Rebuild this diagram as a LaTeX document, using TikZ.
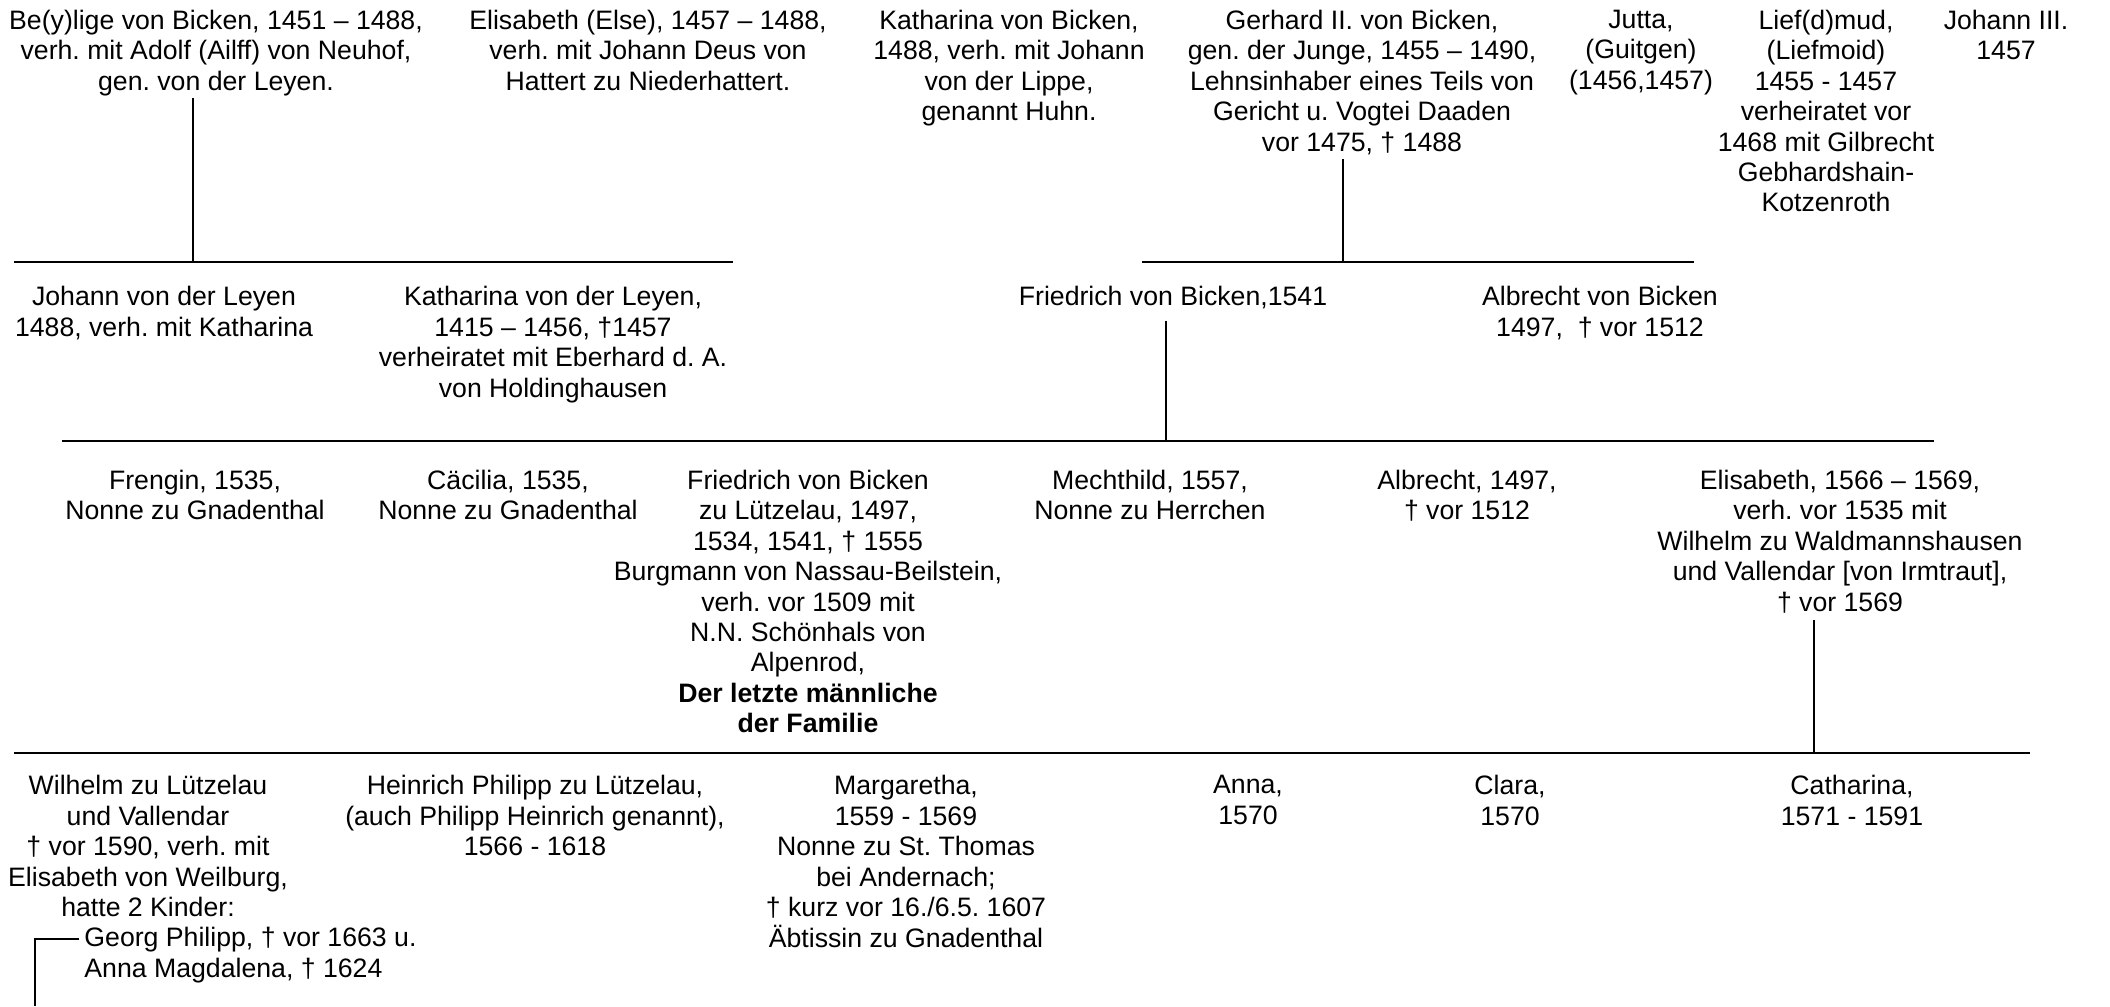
\documentclass[tikz,border=0pt]{standalone}
\usepackage{fontspec}
\setmainfont{Liberation Sans}
\usepackage{tikz}

\begin{document}
\begin{tikzpicture}[x=0.45pt,y=-0.45pt,
		person/.style={anchor=north,align=center,inner sep=0pt,font=\fontsize{12}{13.7}\selectfont\frenchspacing},
		bar/.style={line width=1pt},
		drop/.style={line width=0.65pt}]
	\useasboundingbox[fill=white] (0,0) rectangle (2110,1006);
	% erste Reihe
	\node[person] (beylige) at (216,9.5) {Be(y)lige von Bicken, 1451 – 1488,\\verh. mit Adolf (Ailff) von Neuhof,\\gen. von der Leyen.};
	\node[person] (else) at (648,9.5) {Elisabeth (Else), 1457 – 1488,\\verh. mit Johann Deus von\\Hattert zu Niederhattert.};
	\node[person] (katharinaB) at (1009,9.5) {Katharina von Bicken,\\1488, verh. mit Johann\\von der Lippe,\\genannt Huhn.};
	\node[person] (gerhard) at (1362,9.5) {Gerhard II. von Bicken,\\gen. der Junge, 1455 – 1490,\\Lehnsinhaber eines Teils von\\Gericht u. Vogtei Daaden\\vor 1475, † 1488};
	\node[person] (jutta) at (1641,9.5) {Jutta,\\(Guitgen)\\(1456,1457)};
	\node[person] (liefmud) at (1826,9.5) {Lief(d)mud,\\(Liefmoid)\\1455 - 1457\\verheiratet vor\\1468 mit Gilbrecht\\Gebhardshain-\\Kotzenroth};
	\node[person] (johannIII) at (2006,9.5) {Johann III.\\1457};
	\coordinate (bar1a) at (14,262); \coordinate (bar1b) at (733,262);
	\coordinate (bar1c) at (1142,262); \coordinate (bar1d) at (1694,262);
	\draw[bar] (bar1a) -- (bar1b);
	\draw[bar] (bar1c) -- (bar1d);
	\coordinate (d1) at (193,262);
	\coordinate (d2) at (1343,262);
	\draw[drop,shorten <=1pt] (beylige.south -| d1) -- (d1);
	\draw[drop,shorten <=2pt] (gerhard.south -| d2) -- (d2);
	% zweite Reihe
	\node[person] (johannL) at (164,286) {Johann von der Leyen\\1488, verh. mit Katharina};
	\node[person] (katharinaL) at (553,286) {Katharina von der Leyen,\\1415 – 1456, †1457\\verheiratet mit Eberhard d. A.\\von Holdinghausen};
	\node[person] (friedrich) at (1173,286) {Friedrich von Bicken,1541};
	\node[person] (albrechtB) at (1600,286) {Albrecht von Bicken\\1497,~ † vor 1512};
	\coordinate (bar2a) at (62,441); \coordinate (bar2b) at (1934,441);
	\draw[bar] (bar2a) -- (bar2b);
	\coordinate (d3) at (1166,441);
	\draw[drop,shorten <=5pt] (friedrich.south -| d3) -- (d3);
	% dritte Reihe
	\node[person] (frengin) at (195,469.5) {Frengin, 1535,\\Nonne zu Gnadenthal};
	\node[person] (caecilia) at (508,469.5) {Cäcilia, 1535,\\Nonne zu Gnadenthal};
	\node[person] (friedrichL) at (808,469.5) {Friedrich von Bicken\\zu Lützelau, 1497,\\1534, 1541, † 1555\\Burgmann von Nassau-Beilstein,\\verh. vor 1509 mit\\N.N. Schönhals von\\Alpenrod,\\\textbf{Der letzte männliche}\\\textbf{der Familie}};
	\node[person] (mechthild) at (1150,469.5) {Mechthild, 1557,\\Nonne zu Herrchen};
	\node[person] (albrecht) at (1467,469.5) {Albrecht, 1497,\\† vor 1512};
	\node[person] (elisabeth) at (1840,469.5) {Elisabeth, 1566 – 1569,\\verh. vor 1535 mit\\Wilhelm zu Waldmannshausen\\und Vallendar [von Irmtraut],\\† vor 1569};
	\coordinate (bar3a) at (14,753); \coordinate (bar3b) at (2030,753);
	\draw[bar] (bar3a) -- (bar3b);
	\coordinate (d4) at (1814,753);
	\draw[drop,shorten <=3pt] (elisabeth.south -| d4) -- (d4);
	% vierte Reihe
	\node[person] (wilhelm) at (148,775) {Wilhelm zu Lützelau\\und Vallendar\\† vor 1590, verh. mit\\Elisabeth von Weilburg,\\hatte 2 Kinder:};
	\node[person,anchor=north west,align=left] (kinder) at (84,927) {Georg Philipp, † vor 1663 u.\\Anna Magdalena, † 1624};
	\node[person] (heinrich) at (535,775) {Heinrich Philipp zu Lützelau,\\(auch Philipp Heinrich genannt),\\1566 - 1618};
	\node[person] (margaretha) at (906,775) {Margaretha,\\1559 - 1569\\Nonne zu St. Thomas\\bei Andernach;\\† kurz vor 16./6.5. 1607\\Äbtissin zu Gnadenthal};
	\node[person] (anna) at (1248,775) {Anna,\\1570};
	\node[person] (clara) at (1510,775) {Clara,\\1570};
	\node[person] (catharina) at (1852,775) {Catharina,\\1571 - 1591};
	\coordinate (kin) at (35,1006);
	\draw[drop] ([xshift=-2.2pt,yshift=-5.4pt]kinder.north west) -| (kin);
\end{tikzpicture}
\end{document}
